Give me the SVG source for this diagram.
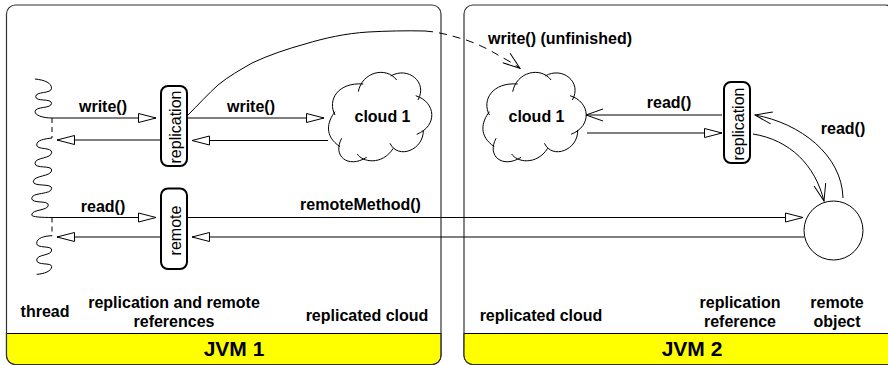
<svg xmlns="http://www.w3.org/2000/svg" width="888" height="365" viewBox="0 0 888 365">
<style>
text{font-family:"Liberation Sans",Arial,sans-serif;font-size:16px;font-weight:bold;fill:#000;text-anchor:middle}
text.r{font-weight:normal}
text.j{font-size:21px}
.l{fill:none;stroke:#000;stroke-width:1}
.b{fill:#fff;stroke:#000;stroke-width:2}
.p{fill:#fff;stroke:#333;stroke-width:1.2}
.y{fill:#ff0}
.h{fill:#fff;stroke:#000;stroke-width:1}
</style>
<defs>
<path id="cloudshape" class="l" d="M335 115 C327 100 338 82 363.300 84 M358.300 91.700 C362 72 386 66 396.700 80 M390.700 76 C408 66 428 82 418 100 M415.700 95.700 C436 102 438 126 416.700 134.300 M423.300 130 C424 150 398 160 390 143.300 M393.300 148.300 C382 166 362 162 357.300 154 M366.700 157.300 C348 169 332 156 341.700 138.300 M340 146.700 C324 136 327 122 335 111.700"/>
<marker id="hol" markerUnits="userSpaceOnUse" markerWidth="20" markerHeight="12" refX="18" refY="5.500" orient="auto"><path d="M0.500 1 L18 5.500 L0.500 10 Z" class="h"/></marker>
<marker id="open" markerUnits="userSpaceOnUse" markerWidth="20" markerHeight="16" refX="18" refY="8" orient="auto"><path d="M1 2 L18 8 L1 14" class="l"/></marker>
</defs>
<g id="jvm1">
<rect x="6.500" y="5" width="434.500" height="359.500" rx="9" class="p"/>
<path d="M7.100 333.500 H440.400 V355 a9 9 0 0 1 -9 9 H16 a9 9 0 0 1 -9 -9 Z" class="y"/>
<path d="M6.500 333.500 H441" class="l"/>
<path d="M6.500 333 V355.500 a9 9 0 0 0 9 9 H432 a9 9 0 0 0 9 -9 V333" fill="none" stroke="#333" stroke-width="1.200"/>
<text x="234" y="356" class="j">JVM 1</text>
</g>
<g id="jvm2">
<rect x="464" y="5" width="430" height="359.500" rx="9" class="p"/>
<path d="M464.500 333.500 H888 V364 H473 a9 9 0 0 1 -9 -9 Z" class="y"/>
<path d="M464 333.500 H888" class="l"/>
<path d="M464 333 V355.500 a9 9 0 0 0 9 9 H888" fill="none" stroke="#333" stroke-width="1.200"/>
<text x="692" y="356" class="j">JVM 2</text>
</g>
<g id="thread">
<path class="l" d="M35 79 C45 80 51.500 83 51.500 88.300 C51.500 94 35.700 91 35.700 96.700 C35.700 102 51.500 98 51.500 103.300 C51.500 109 35 106 35 111.700 C35 115 42 118 52 118"/>
<path class="l" d="M52 138 C44 139 36.700 140 36.700 145 C36.700 150 51.700 147 51.700 152.300 C51.700 159 35 157 35 163.300 C35 169 51.700 165 51.700 170 C51.700 177 33.300 175 33.300 181.700 C33.300 187 51.700 183 51.700 188.300 C51.700 195 31.700 192 31.700 198.300 C31.700 204 48.300 200 48.300 205 C48.300 211 31.700 209 31.700 215 C31.700 217 42 217.500 52 217.500"/>
<path class="l" d="M52 235.700 C44 236 36.700 238 36.700 243.300 C36.700 249 51.700 245 51.700 250 C51.700 256 36.700 254 36.700 260 C36.700 266 51.700 262 51.700 266.700 C51.700 271 44 274 36.700 274.300"/>
<path class="l" d="M52 118 V138 M52 217.500 V236" stroke-dasharray="5 4"/>
</g>
<g id="connectors">
<path class="l" d="M52 118 H156" marker-end="url(#hol)"/>
<path class="l" d="M161 140 H57" marker-end="url(#hol)"/>
<path class="l" d="M52 217.500 H156" marker-end="url(#hol)"/>
<path class="l" d="M161 237 H57" marker-end="url(#hol)"/>
<path class="l" d="M187 118 H324" marker-end="url(#hol)"/>
<path class="l" d="M328 140.500 H192" marker-end="url(#hol)"/>
<path class="l" d="M187 217.500 H803" marker-end="url(#hol)"/>
<path class="l" d="M804 237 H192" marker-end="url(#hol)"/>
<path class="l" d="M722 115 H586" marker-end="url(#open)"/>
<path class="l" d="M587 133 H722" marker-end="url(#hol)"/>
<path class="l" d="M188 115 C198 105 208 94 218 85 C229 76 240 70 252 63 C269 55 287 49 305 44 C325 38 345 33.500 368 32 C387 31 406 30.500 425 31"/>
<path class="l" d="M425 31 C440 32 452 36 463 39 C476 43 488 49 498 55 C505 59 513 63 520 68.300" stroke-dasharray="8 6" marker-end="url(#open)"/>
<path class="l" d="M753 134 C790 140 815 165 824 201" marker-end="url(#open)"/>
<path class="l" d="M843 198 C842 155 800 123 755 115" marker-end="url(#open)"/>
</g>
<g id="replication1"><rect x="161" y="86" width="26" height="80" rx="7" class="b"/><text class="r" transform="translate(180.500 127) rotate(-90)">replication</text></g>
<g id="remote1"><rect x="161" y="188.500" width="26" height="80.500" rx="7" class="b"/><text class="r" transform="translate(180.500 230.500) rotate(-90)">remote</text></g>
<g id="replication2"><rect x="724" y="82" width="26" height="81" rx="7" class="b"/><text class="r" transform="translate(743.500 124) rotate(-90)">replication</text></g>
<g id="cloud1a"><use href="#cloudshape"/><text x="382.500" y="121.500">cloud 1</text></g>
<g id="cloud1b"><use href="#cloudshape" x="154.400"/><text x="536.500" y="121.500">cloud 1</text></g>
<g id="object"><circle cx="833.500" cy="230.500" r="29.500" class="h"/></g>
<g id="labels">
<text x="103" y="112">write()</text>
<text x="251" y="112">write()</text>
<text x="103" y="212">read()</text>
<text x="360.500" y="210">remoteMethod()</text>
<text x="560" y="44">write() (unfinished)</text>
<text x="669" y="108">read()</text>
<text x="843" y="134">read()</text>
<text x="45" y="317">thread</text>
<text x="174" y="308">replication and remote</text>
<text x="174" y="327">references</text>
<text x="367" y="321">replicated cloud</text>
<text x="541" y="321">replicated cloud</text>
<text x="740" y="308">replication</text>
<text x="740" y="327">reference</text>
<text x="837" y="308">remote</text>
<text x="837" y="327">object</text>
</g>
</svg>
